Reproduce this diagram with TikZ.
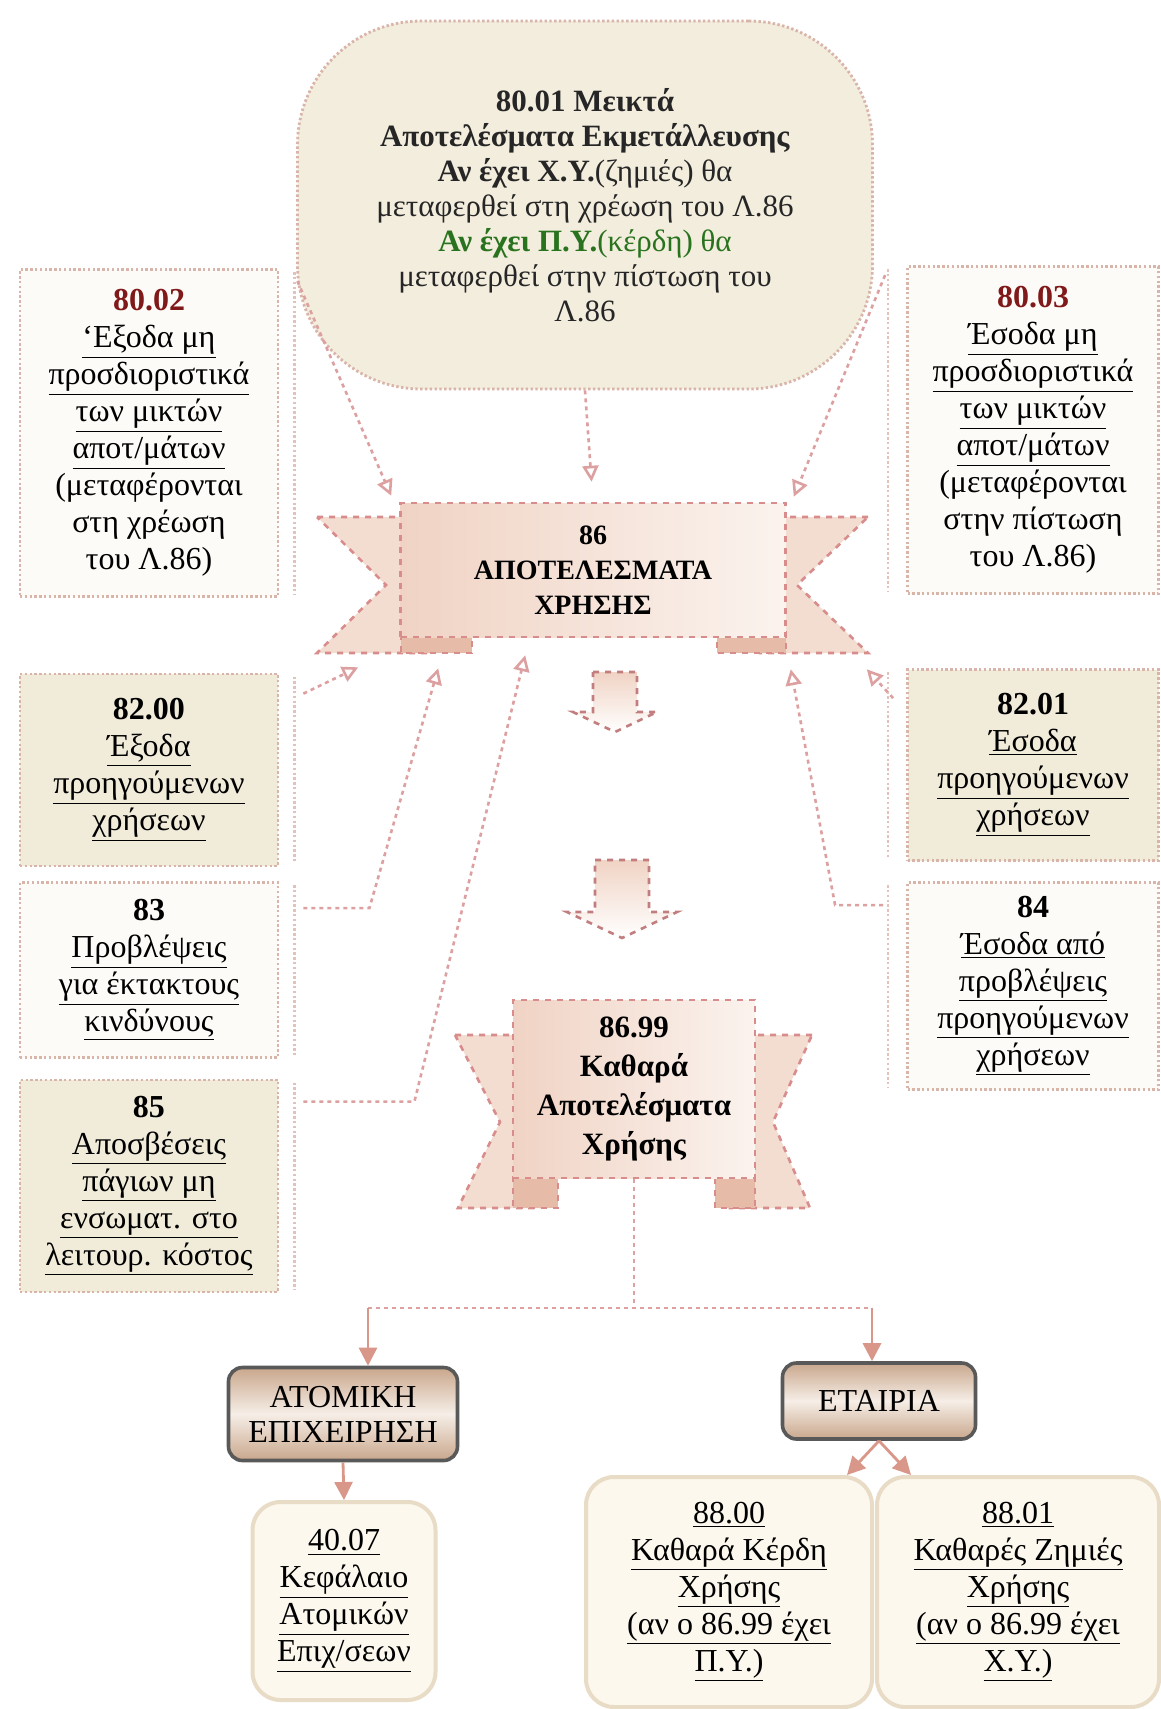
\documentclass[tikz,border=0pt]{standalone}
\usepackage{fontspec}
\setmainfont{Liberation Serif}
\usetikzlibrary{arrows.meta,calc}
\definecolor{accred}{rgb}{0.50,0.10,0.10}
\definecolor{accgreen}{rgb}{0.16,0.45,0.12}
\definecolor{bubblefill}{HTML}{F3EDDD}
\definecolor{boxcream}{HTML}{F1ECDA}
\definecolor{boxwhite}{HTML}{FDFBF8}
\definecolor{dotline}{HTML}{D9B4A8}
\definecolor{ribline}{HTML}{D88C8C}
\definecolor{ribdark}{HTML}{F0D3C4}
\definecolor{riblight}{HTML}{FBF3EE}
\definecolor{foldpink}{HTML}{E6BBA8}
\definecolor{linkpink}{HTML}{DDA0A0}
\definecolor{brownmid}{HTML}{C9A78C}
\definecolor{brownlight}{HTML}{F6EEE7}
\definecolor{endline}{HTML}{E9DCC6}
\definecolor{endfill}{HTML}{FCF8EE}
\definecolor{arrowpink}{HTML}{D9978A}
\tikzset{acbox/.style={draw=dotline, dash pattern=on 1.2pt off 1.2pt, line width=1.4pt, fill=boxwhite, align=center, inner sep=0pt, font=\fontsize{16}{18.5}\selectfont}}
\tikzset{acboxc/.style={acbox, fill=boxcream}}
\tikzset{shadowl/.style={draw=dotline!80, dash pattern=on 1.2pt off 1.2pt, line width=1.2pt}}
\tikzset{ribbon/.style={draw=ribline, dashed, line width=1.3pt, left color=ribdark, right color=riblight, align=center, inner sep=0pt}}
\tikzset{ribtail/.style={draw=ribline, dashed, line width=1.3pt, fill=ribdark!80!white}}
\tikzset{foldpiece/.style={draw=ribline, dashed, line width=1.3pt, fill=foldpink}}
\tikzset{link/.style={draw=linkpink, dash pattern=on 2pt off 2pt, line width=1.3pt, -{Triangle[open,length=8pt,width=8pt]}}}
\tikzset{plainlink/.style={draw=linkpink, dash pattern=on 2pt off 2pt, line width=1.3pt}}
\tikzset{blockarrow/.style={draw=ribline!90!black, dashed, line width=1.3pt, top color=ribdark, bottom color=white}}
\tikzset{firm/.style={draw=black!65, line width=1.8pt, rounded corners=7pt, top color=brownmid, bottom color=brownmid, middle color=brownlight, align=center, inner sep=0pt, font=\fontsize{16}{17.5}\selectfont}}
\tikzset{result/.style={draw=endline, line width=2pt, rounded corners=14pt, fill=endfill, align=center, inner sep=0pt, font=\fontsize{16}{18.5}\selectfont}}
\tikzset{barrow/.style={draw=arrowpink, line width=1.4pt, -{Triangle[length=9pt,width=9pt]}}}

\begin{document}
\begin{tikzpicture}[x=0.5pt,y=-0.5pt]
    \fill[white] (0,0) rectangle (1161,1709);
    \useasboundingbox (0,0) rectangle (1161,1709);

    % mixed results
    \node[acbox, fill=bubblefill, rounded corners=62pt, minimum width=287.5pt, minimum height=184pt, font=\fontsize{15.5}{17.5}\selectfont, text=black!85] (a8001) at (585,205)
        {\textbf{80.01 Μεικτά}\\
         \textbf{Αποτελέσματα Εκμετάλλευσης}\\
         \textbf{Αν έχει Χ.Υ.}(ζημιές) θα\\
         μεταφερθεί στη χρέωση του Λ.86\\
         \textcolor{accgreen}{\textbf{Αν έχει Π.Υ.}(κέρδη) θα}\\
         μεταφερθεί στην πίστωση του\\
         Λ.86};

    % left column
    \node[acbox, minimum width=129pt, minimum height=163.5pt] (a8002) at (149,433)
        {\textcolor{accred}{\textbf{80.02}}\\ \underline{‘Εξοδα μη}\\ \underline{προσδιοριστικά}\\ \underline{των μικτών}\\
         \underline{αποτ/μάτων}\\ (μεταφέρονται\\ στη χρέωση\\ του Λ.86)};
    \node[acboxc, minimum width=129pt, minimum height=96pt] (a8200) at (149,770)
        {\textbf{82.00}\\ \underline{Έξοδα}\\ \underline{προηγούμενων}\\ \underline{χρήσεων}};
    \node[acbox, minimum width=129pt, minimum height=87.5pt] (a83) at (149,970)
        {\textbf{83}\\ \underline{Προβλέψεις}\\ \underline{για έκτακτους}\\ \underline{κινδύνους}};
    \node[acboxc, minimum width=129pt, minimum height=106pt] (a85) at (149,1186)
        {\textbf{85}\\ \underline{Αποσβέσεις}\\ \underline{πάγιων μη}\\ \underline{ενσωματ. στο}\\ \underline{λειτουρ. κόστος}};

    % right column
    \node[acbox, minimum width=125.5pt, minimum height=163.5pt] (a8003) at (1033,430)
        {\textcolor{accred}{\textbf{80.03}}\\ \underline{Έσοδα μη}\\ \underline{προσδιοριστικά}\\ \underline{των μικτών}\\
         \underline{αποτ/μάτων}\\ (μεταφέρονται\\ στην πίστωση\\ του Λ.86)};
    \node[acboxc, minimum width=125.5pt, minimum height=95.5pt] (a8201) at (1033,765)
        {\textbf{82.01}\\ \underline{Έσοδα}\\ \underline{προηγούμενων}\\ \underline{χρήσεων}};
    \node[acbox, minimum width=125.5pt, minimum height=103.5pt] (a84) at (1033,986)
        {\textbf{84}\\ \underline{Έσοδα από}\\ \underline{προβλέψεις}\\ \underline{προηγούμενων}\\ \underline{χρήσεων}};

    \foreach \b in {a8002,a8200,a83,a85}
        \draw[shadowl] ($(\b.north east)+(15,4)$) -- ($(\b.south east)+(15,-4)$);
    \foreach \b in {a8003,a8201,a84}
        \draw[shadowl] ($(\b.north west)+(-18,4)$) -- ($(\b.south west)+(-18,-4)$);

    % ribbon 86
    \draw[ribtail] (317,517) -- (430,517) -- (430,653) -- (317,653) -- (386,585) -- cycle;
    \draw[ribtail] (868,517) -- (760,517) -- (760,653) -- (868,653) -- (797,585) -- cycle;
    \draw[foldpiece] (401,628) -- (472,628) -- (472,653) -- (401,653) -- cycle;
    \draw[foldpiece] (717,628) -- (786,628) -- (786,653) -- (717,653) -- cycle;
    \node[ribbon, minimum width=192.5pt, minimum height=67pt, font=\fontsize{14}{17.5}\selectfont\bfseries] (a86) at (593,570)
        {86\\ ΑΠΟΤΕΛΕΣΜΑΤΑ\\ ΧΡΗΣΗΣ};

    % ribbon 86.99
    \draw[ribtail] (455,1035) -- (540,1035) -- (540,1208) -- (458,1208) -- (500,1122) -- cycle;
    \draw[ribtail] (812,1035) -- (730,1035) -- (730,1208) -- (810,1208) -- (773,1122) -- cycle;
    \draw[foldpiece] (513,1168) -- (558,1168) -- (558,1208) -- (513,1208) -- cycle;
    \draw[foldpiece] (715,1168) -- (755,1168) -- (755,1208) -- (715,1208) -- cycle;
    \node[ribbon, minimum width=121pt, minimum height=89pt, font=\fontsize{15.5}{19.5}\selectfont\bfseries] (a8699) at (634,1089)
        {86.99\\ Καθαρά\\ Αποτελέσματα\\ Χρήσης};

    \draw[blockarrow] (593,672) -- (637,672) -- (637,712) -- (657,712) -- (615,732) -- (573,712) -- (593,712) -- cycle;
    \draw[blockarrow] (595,860) -- (649,860) -- (649,912) -- (677,912) -- (622,938) -- (567,912) -- (595,912) -- cycle;

    % transfers into 86
    \draw[link, shorten >=10pt] (a8001.south) -- (a86.north);
    \draw[link] ($(a8002.north east)+(18,13)$) -- ($(a86.north west)+(-8,-6)$);
    \draw[link] ($(a8003.north west)+(-21,10)$) -- ($(a86.north east)+(7,-5)$);
    \draw[link] ($(a8200.north east)+(24,21)$) -- ($(a86.south west)+(-41,29)$);
    \draw[link] ($(a83.north east)+(24,27)$) -- ++(66,0) -- ($(a86.south west)+(39,30)$);
    \draw[link] ($(a85.north east)+(24,23)$) -- ++(111,0) -- ($(a86.south west)+(126,17)$);
    \draw[link] ($(a8201.north west)+(-13,30)$) -- ($(a86.south east)+(80,31)$);
    \draw[link] ($(a84.north west)+(-23,24)$) -- ++(-48,0) -- ($(a86.south east)+(4,31)$);

    % closing entries
    \node[firm, minimum width=114.5pt, minimum height=46.5pt] (atom) at (343,1414) {ΑΤΟΜΙΚΗ\\ ΕΠΙΧΕΙΡΗΣΗ};
    \node[firm, minimum width=96.5pt, minimum height=38pt] (etair) at (879,1401) {ΕΤΑΙΡΙΑ};
    \node[result, minimum width=91.5pt, minimum height=99pt] (a4007) at (344,1601)
        {\underline{40.07}\\ \underline{Κεφάλαιο}\\ \underline{Ατομικών}\\ \underline{Επιχ/σεων}};
    \node[result, minimum width=143pt, minimum height=115pt] (a8800) at (729,1592)
        {\underline{88.00}\\ \underline{Καθαρά Κέρδη}\\ \underline{Χρήσης}\\ \underline{(αν ο 86.99 έχει}\\ \underline{Π.Υ.)}};
    \node[result, minimum width=141pt, minimum height=115pt] (a8801) at (1018,1592)
        {\underline{88.01}\\ \underline{Καθαρές Ζημιές}\\ \underline{Χρήσης}\\ \underline{(αν ο 86.99 έχει}\\ \underline{Χ.Υ.)}};

    \coordinate (split) at (634,1308);
    \coordinate (toatom) at (368,1308);
    \coordinate (toetair) at (872,1308);
    \draw[plainlink] (a8699.south) -- (split);
    \draw[plainlink] (toatom) -- (toetair);
    \draw[barrow] (toatom) -- (toatom |- atom.north);
    \draw[barrow] (toetair) -- (toetair |- etair.north);
    \draw[barrow] (atom.south) -- (a4007.north);
    \draw[barrow] (etair.south) -- ($(a8800.north east)+(-27,0)$);
    \draw[barrow] (etair.south) -- ($(a8801.north west)+(36,0)$);
\end{tikzpicture}
\end{document}
